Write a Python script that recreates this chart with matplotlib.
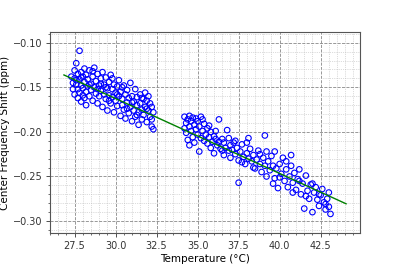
import matplotlib
matplotlib.use("Agg")
import matplotlib.pyplot as plt
import numpy as np

# Cluster 1 (low temperature)
temp_a = [27.3, 27.4, 27.4, 27.5, 27.5, 27.5, 27.6, 27.6, 27.7, 27.7, 27.7, 27.8, 27.8, 27.8,
          27.9, 27.9, 27.9, 28.0, 28.0, 28.0, 28.1, 28.1, 28.2, 28.2, 28.2, 28.3, 28.3, 28.4,
          28.4, 28.5, 28.5, 28.6, 28.6, 28.7, 28.7, 28.8, 28.8, 28.9, 28.9, 29.0, 29.0, 29.1,
          29.1, 29.2, 29.2, 29.3, 29.3, 29.4, 29.4, 29.5, 29.5, 29.6, 29.6, 29.7, 29.7, 29.8,
          29.8, 29.9, 29.9, 30.0, 30.0, 30.1, 30.1, 30.2, 30.2, 30.3, 30.3, 30.4, 30.4, 30.5,
          30.5, 30.6, 30.6, 30.7, 30.7, 30.8, 30.8, 30.9, 30.9, 31.0, 31.0, 31.1, 31.1, 31.2,
          31.2, 31.3, 31.3, 31.4, 31.4, 31.5, 31.5, 31.6, 31.6, 31.7, 31.7, 31.8, 31.8, 31.9,
          31.9, 32.0, 32.0, 32.1, 32.1, 32.2, 32.2, 32.3, 32.3,
          27.6, 27.9, 28.1, 28.4, 28.6, 28.9, 29.1, 29.4, 29.6, 29.8, 30.1, 30.4, 30.7, 31.0,
          31.3, 31.6, 31.9, 32.2]
shift_a = [-0.138, -0.145, -0.152, -0.131, -0.140, -0.158, -0.123, -0.147, -0.135, -0.152, -0.162, -0.109, -0.141, -0.156,
           -0.133, -0.148, -0.166, -0.138, -0.151, -0.159, -0.129, -0.144, -0.136, -0.155, -0.170, -0.141, -0.149, -0.131,
           -0.160, -0.146, -0.153, -0.138, -0.165, -0.128, -0.150, -0.143, -0.157, -0.135, -0.168, -0.148, -0.160, -0.140,
           -0.154, -0.133, -0.172, -0.147, -0.158, -0.139, -0.163, -0.151, -0.176, -0.144, -0.159, -0.136, -0.168, -0.152,
           -0.161, -0.147, -0.178, -0.156, -0.165, -0.149, -0.171, -0.142, -0.160, -0.155, -0.182, -0.163, -0.170, -0.148,
           -0.175, -0.158, -0.185, -0.153, -0.167, -0.162, -0.179, -0.145, -0.172, -0.160, -0.188, -0.166, -0.176, -0.152,
           -0.183, -0.161, -0.170, -0.178, -0.192, -0.158, -0.168, -0.175, -0.186, -0.163, -0.181, -0.156, -0.172, -0.165,
           -0.189, -0.160, -0.176, -0.168, -0.183, -0.172, -0.194, -0.178, -0.197,
           -0.142, -0.139, -0.162, -0.147, -0.132, -0.152, -0.146, -0.150, -0.165, -0.140, -0.158, -0.150, -0.174, -0.167,
           -0.181, -0.162, -0.174, -0.186]

# Cluster 2 (high temperature)
temp_b = [34.2, 34.3, 34.3, 34.4, 34.4, 34.5, 34.5, 34.6, 34.6, 34.7, 34.7, 34.8, 34.8, 34.9, 35.0, 35.0,
          35.1, 35.1, 35.2, 35.2, 35.3, 35.4, 35.4, 35.5, 35.6, 35.6, 35.7, 35.8, 35.8, 35.9, 36.0, 36.0,
          36.1, 36.2, 36.3, 36.3, 36.4, 36.5, 36.6, 36.6, 36.7, 36.8, 36.9, 37.0, 37.0, 37.1, 37.2, 37.3,
          37.4, 37.5, 37.5, 37.6, 37.7, 37.8, 37.9, 38.0, 38.1, 38.1, 38.2, 38.3, 38.4, 38.5, 38.6, 38.7,
          38.8, 38.9, 39.0, 39.1, 39.1, 39.2, 39.3, 39.4, 39.5, 39.6, 39.7, 39.8, 39.9, 40.0, 40.1, 40.2,
          40.3, 40.4, 40.5, 40.6, 40.7, 40.8, 40.9, 41.0, 41.1, 41.2, 41.3, 41.4, 41.5, 41.6, 41.7, 41.8,
          41.9, 42.0, 42.1, 42.2, 42.3, 42.4, 42.5, 42.6, 42.7, 42.8, 42.9, 43.0, 43.1,
          34.2, 34.5, 34.9, 35.3, 35.7, 36.1, 36.5, 36.9, 37.3, 37.7, 38.0, 38.4, 38.8, 39.2, 39.6, 40.0,
          40.4, 40.8, 41.2, 41.6, 42.0, 42.4, 42.8, 43.0, 39.7, 40.7]
shift_b = [-0.183, -0.190, -0.201, -0.186, -0.209, -0.194, -0.215, -0.188, -0.199, -0.184, -0.206, -0.192, -0.212, -0.197, -0.188, -0.203,
           -0.194, -0.222, -0.183, -0.207, -0.199, -0.210, -0.191, -0.203, -0.213, -0.196, -0.206, -0.218, -0.200, -0.211, -0.205, -0.224,
           -0.208, -0.215, -0.186, -0.211, -0.219, -0.208, -0.212, -0.226, -0.218, -0.198, -0.221, -0.215, -0.229, -0.220, -0.212, -0.225,
           -0.218, -0.232, -0.257, -0.222, -0.214, -0.228, -0.236, -0.224, -0.230, -0.207, -0.219, -0.233, -0.226, -0.241, -0.231, -0.221,
           -0.236, -0.245, -0.229, -0.204, -0.238, -0.250, -0.233, -0.243, -0.227, -0.238, -0.252, -0.241, -0.263, -0.236, -0.247, -0.229,
           -0.255, -0.242, -0.262, -0.250, -0.238, -0.257, -0.246, -0.265, -0.253, -0.242, -0.270, -0.258, -0.286, -0.249, -0.266, -0.275,
           -0.259, -0.290, -0.268, -0.262, -0.276, -0.283, -0.271, -0.264, -0.279, -0.287, -0.275, -0.284, -0.292,
           -0.196, -0.182, -0.185, -0.186, -0.193, -0.199, -0.221, -0.207, -0.210, -0.234, -0.212, -0.240, -0.225, -0.222, -0.258, -0.251,
           -0.233, -0.268, -0.255, -0.272, -0.258, -0.270, -0.281, -0.268, -0.222, -0.226]

# Linear fit
fit_temp = [26.85, 44.05]
fit_slope = -0.0084
fit_intercept = 0.0894

plt.rcParams['font.family'] = 'DejaVu Sans'
fig = plt.figure(figsize=(4.0, 2.67), dpi=100)
ax = fig.add_axes([0.125, 0.127, 0.775, 0.753])

ax.minorticks_on()
ax.grid(which='major', linestyle='--', color='#888888', linewidth=0.6)
ax.grid(which='minor', linestyle=':', color='#bbbbbb', linewidth=0.5)
ax.set_axisbelow(True)

x = np.array(temp_a + temp_b)
y = np.array(shift_a + shift_b)
ax.scatter(x, y, s=16, facecolors='none', edgecolors='blue', linewidths=0.8, zorder=3)

fx = np.array(fit_temp)
ax.plot(fx, fit_intercept + fit_slope * fx, color='green', linewidth=1.0, zorder=4)

ax.set_xlim(26.0, 44.9)
ax.set_ylim(-0.3135, -0.088)
ax.set_xticks([27.5, 30.0, 32.5, 35.0, 37.5, 40.0, 42.5])
ax.set_yticks([-0.30, -0.25, -0.20, -0.15, -0.10])
ax.tick_params(labelsize=7, length=3, width=0.6, colors='#333333', pad=2.5)
ax.tick_params(which='minor', length=1.5, width=0.4)
for s in ax.spines.values():
    s.set_color('#555555')
    s.set_linewidth(0.8)

ax.set_xlabel('Temperature (°C)', fontsize=7.5, labelpad=2)
ax.set_ylabel('Center Frequency Shift (ppm)', fontsize=7.5, labelpad=2)

fig.savefig('out.png', dpi=100)
